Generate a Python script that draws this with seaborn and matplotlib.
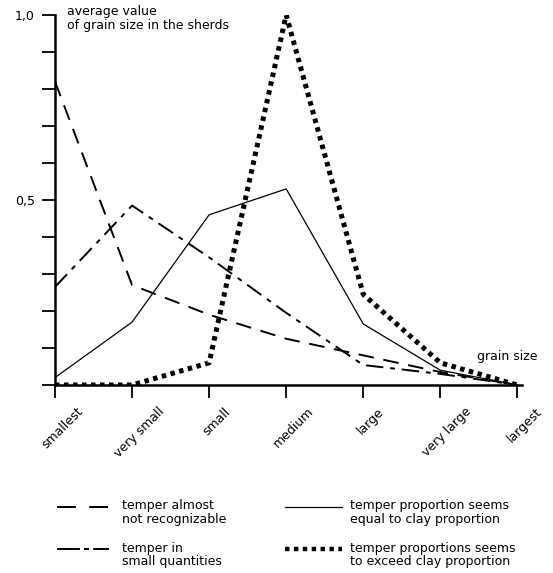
import matplotlib
matplotlib.use("Agg")
import matplotlib.pyplot as plt
import seaborn as sns
import numpy as np
from matplotlib.lines import Line2D
from matplotlib.legend_handler import HandlerLine2D
from matplotlib.transforms import ScaledTranslation, Affine2D

categories = ["smallest", "very small", "small", "medium", "large", "very large", "largest"]
almost_not_recognizable = [0.82, 0.27, 0.19, 0.125, 0.08, 0.035, 0.0]
small_quantities = [0.265, 0.485, 0.345, 0.195, 0.054, 0.03, 0.0]
equal_to_clay = [0.02, 0.17, 0.46, 0.53, 0.165, 0.04, 0.0]
exceed_clay = [0.0, 0.0, 0.06, 1.0, 0.245, 0.06, 0.0]
labels = ["temper almost\nnot recognizable", "temper in\nsmall quantities",
          "temper proportion seems\nequal to clay proportion",
          "temper proportions seems\nto exceed clay proportion"]

sns.set_style("white")
plt.rcParams['font.family'] = ['DejaVu Sans']
plt.rcParams['text.color'] = 'black'
plt.rcParams['xtick.color'] = 'black'
plt.rcParams['ytick.color'] = 'black'
plt.rcParams['axes.labelcolor'] = 'black'
plt.rcParams['axes.edgecolor'] = 'black'
FS = 9

W, H = 553, 573
fig = plt.figure(figsize=(W / 100, H / 100), dpi=100)
fig.patch.set_facecolor("white")
ax = fig.add_axes([55 / W, 1 - 385 / H, (522 - 55) / W, (385 - 15) / H])
ax.set_facecolor("none")

x = np.arange(len(categories))
styles = [
    dict(lw=1.4, linestyle=(0, (8, 5))),
    dict(lw=1.4, linestyle=(0, (9, 3.5, 2.5, 3.5))),
    dict(lw=0.9, linestyle="-"),
    dict(lw=3.6, linestyle=(0, (0.9, 0.9)), solid_capstyle="butt", dash_capstyle="butt"),
]
legend_styles = [
    dict(lw=1.4, linestyle=(0, (9.7, 6.8))),
    dict(lw=1.4, linestyle=(0, (11.8, 2.1, 2.6, 2.1))),
    dict(lw=0.9, linestyle="-"),
    dict(lw=3.2, linestyle=(0, (1.0, 1.0)), solid_capstyle="butt", dash_capstyle="butt"),
]
series = [almost_not_recognizable, small_quantities, equal_to_clay, exceed_clay]
for vals, st in zip(series, styles):
    sns.lineplot(x=x, y=vals, ax=ax, color="black", **st)

ax.set_xlim(0, 6.06)
ax.set_ylim(0, 1.0)
for s in ["top", "right"]:
    ax.spines[s].set_visible(False)
for s in ["left", "bottom"]:
    ax.spines[s].set_linewidth(1.8)
    ax.spines[s].set_color("black")
ax.spines["left"].set_bounds(0, 1.0)

ax.set_xticks(x)
ax.set_xticklabels(categories, rotation=45, ha="center", va="top", fontsize=FS, color="black")
ax.tick_params(axis="x", direction="out", length=9.4, width=1.3, pad=5, bottom=True, colors="black")
offset = ScaledTranslation(7 / 100, 0, fig.dpi_scale_trans)
for lab in ax.get_xticklabels():
    lab.set_transform(lab.get_transform() + offset)

yt = np.round(np.arange(0.0, 1.01, 0.1), 2)
ax.set_yticks(yt)
ax.set_yticklabels(["1,0" if abs(v - 1) < 1e-6 else ("0,5" if abs(v - 0.5) < 1e-6 else "") for v in yt],
                   fontsize=FS, color="black")
ax.tick_params(axis="y", direction="out", length=9.4, width=1.3, pad=5, left=True, colors="black")

fig.text(67 / W, 1 - 5 / H, "average value\nof grain size in the sherds", fontsize=FS,
         ha="left", va="top", linespacing=1.05, color="black")
ax.text(5.48, 0.068, "grain size", fontsize=FS, ha="left", va="baseline", color="black")


class UpHandler(HandlerLine2D):
    def create_artists(self, legend, orig_handle, xdescent, ydescent, width, height, fontsize, trans):
        shift = Affine2D().translate(0, 0.5 * fontsize * fig.dpi / 72)
        arts = super().create_artists(legend, orig_handle, xdescent, ydescent, width, height, fontsize, trans + shift)
        for a in arts:
            a.set_transform(trans + shift)
        return arts


handles = [Line2D([], [], color="black", **st) for st in legend_styles]
col_specs = [(0, 57, 4.16, 1.04), (2, 285, 4.56, 0.64)]
legs = []
for start, xpix, hlen, hpad in col_specs:
    lg = fig.legend(handles[start:start + 2], labels[start:start + 2], loc="upper left",
                    bbox_to_anchor=(xpix / W, 1 - 499 / H), frameon=False, fontsize=FS,
                    borderpad=0, borderaxespad=0,
                    handlelength=hlen, handletextpad=hpad, labelspacing=1.3,
                    handler_map={Line2D: UpHandler()})
    for t in lg.get_texts():
        t.set_linespacing(1.05)
        t.set_color("black")
    legs.append(lg)

fig.savefig("out.png", dpi=100, facecolor="white")
